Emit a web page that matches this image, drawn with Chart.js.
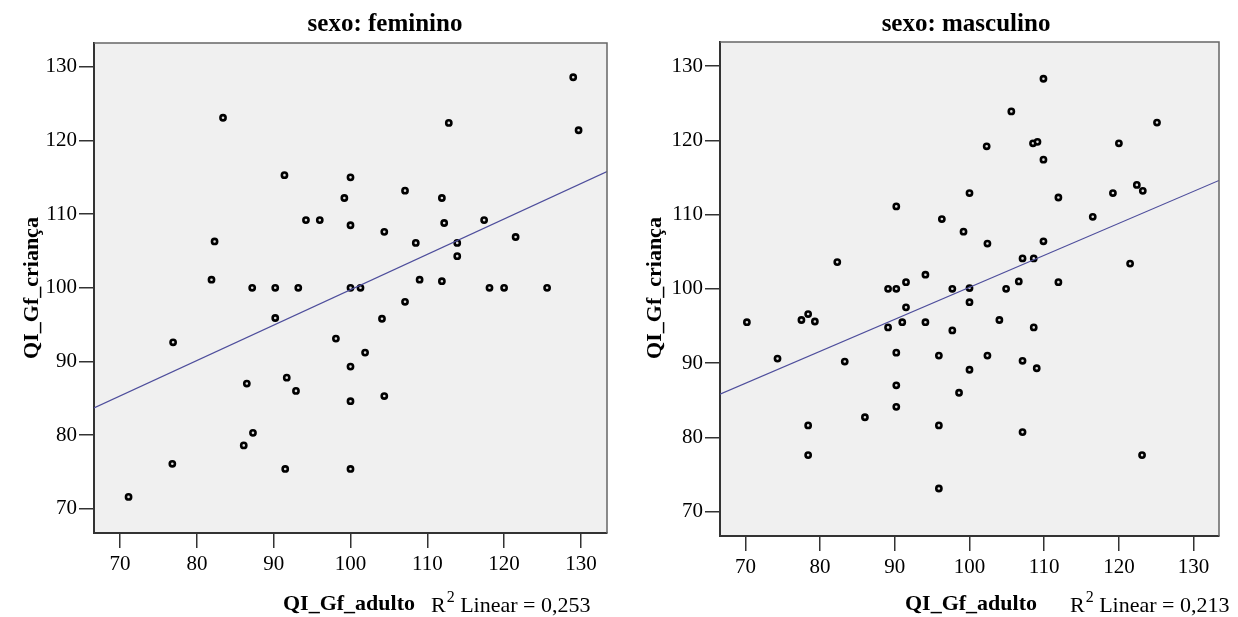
<!DOCTYPE html>
<html>
<head>
<meta charset="utf-8">
<script src="https://cdn.jsdelivr.net/npm/chart.js@4/dist/chart.umd.min.js"></script>
<style>
    body { margin: 0; background: #fff; }
    .panel { position: absolute; top: 0; width: 619px; height: 617px; }
</style>
</head>
<body>
<div class="panel" style="left:0"><canvas id="femChart"></canvas></div>
<div class="panel" style="left:619px"><canvas id="mascChart"></canvas></div>
<script>
// dados
const femAdulto = [83.4, 91.4, 94.2, 96.0, 82.3, 81.9, 87.2, 90.2, 93.2, 129.0, 129.7, 112.8, 100.0, 99.2, 107.1, 111.9, 100.0, 104.4, 112.2, 117.4, 108.5, 113.9, 113.9, 121.5, 109.0, 111.9, 100.0, 101.3, 118.1, 120.0, 125.6, 107.1, 76.9, 90.2, 98.1, 86.5, 91.7, 92.9, 87.3, 86.1, 76.8, 91.5, 71.1, 104.1, 101.9, 100.0, 100.0, 104.4, 100.0];
const femCrianca = [123.1, 115.3, 109.2, 109.2, 106.3, 101.1, 100, 100, 100, 128.6, 121.4, 122.4, 115.0, 112.2, 113.2, 112.2, 108.5, 107.6, 108.8, 109.2, 106.1, 106.1, 104.3, 106.9, 101.1, 100.9, 100, 100, 100, 100, 100, 98.1, 92.6, 95.9, 93.1, 87.0, 87.8, 86.0, 80.3, 78.6, 76.1, 75.4, 71.6, 95.8, 91.2, 89.3, 84.6, 85.3, 75.4];

const mascAdulto = [82.3, 90.2, 96.3, 89.1, 90.2, 91.5, 94.1, 97.7, 109.9, 105.6, 125.1, 102.3, 108.5, 109.1, 120.0, 109.9, 100.0, 111.9, 119.2, 122.4, 123.2, 116.5, 99.2, 102.4, 109.9, 107.1, 108.6, 121.5, 100.0, 104.9, 106.6, 111.9, 100.0, 70.2, 74.3, 77.5, 78.4, 79.3, 83.3, 86.0, 78.4, 78.4, 89.1, 91.0, 91.5, 94.1, 90.2, 90.2, 90.2, 95.9, 97.7, 98.6, 95.9, 95.9, 104.0, 108.6, 102.4, 107.1, 109.0, 100.0, 107.1, 123.1];
const mascCrianca = [103.6, 111.1, 109.4, 100, 100, 100.9, 101.9, 100, 128.3, 123.9, 122.4, 119.2, 119.6, 119.8, 119.6, 117.4, 112.9, 112.3, 112.9, 114.0, 113.2, 109.7, 107.7, 106.1, 106.4, 104.1, 104.1, 103.4, 100.1, 100, 101.0, 100.9, 98.2, 95.5, 90.6, 95.8, 96.6, 95.6, 90.2, 82.7, 81.6, 77.6, 94.8, 95.5, 97.5, 95.5, 91.4, 87.0, 84.1, 91.0, 94.4, 86.0, 81.6, 73.1, 95.8, 94.8, 91.0, 90.3, 89.3, 89.1, 80.7, 77.6];

const femFitX = [66.6, 133.4];
const femFitY = [83.7, 115.8];
const mascFitX = [66.6, 133.4];
const mascFitY = [85.8, 114.6];

const tickValues = [70, 80, 90, 100, 110, 120, 130];
const xRange = [66.6, 133.4];
const yRange = [66.7, 133.25];

const SERIF = "'Liberation Serif', 'Times New Roman', serif";

const framePlugin = {
    id: "frame",
    beforeDraw(chart) {
        const { ctx, chartArea: a } = chart;
        ctx.save();
        ctx.fillStyle = "#f0f0f0";
        ctx.fillRect(a.left, a.top, a.right - a.left, a.bottom - a.top);
        ctx.restore();
    },
    afterDraw(chart, args, opts) {
        const { ctx, chartArea: a } = chart;
        ctx.save();
        ctx.strokeStyle = "#666";
        ctx.lineWidth = 1.5;
        ctx.beginPath();
        ctx.moveTo(a.left, a.top);
        ctx.lineTo(a.right, a.top);
        ctx.lineTo(a.right, a.bottom);
        ctx.stroke();

        ctx.fillStyle = "#000";
        ctx.textBaseline = "alphabetic";
        ctx.textAlign = "center";
        ctx.font = `bold 25px ${SERIF}`;
        ctx.fillText(opts.title, opts.titleX, 31);

        ctx.font = `bold 22px ${SERIF}`;
        ctx.fillText("QI_Gf_adulto", opts.xLabelX, 610);

        ctx.save();
        ctx.translate(opts.yLabelX, 288);
        ctx.rotate(-Math.PI / 2);
        ctx.fillText("QI_Gf_criança", 0, 0);
        ctx.restore();

        ctx.textAlign = "left";
        let x = opts.r2X;
        ctx.font = `22px ${SERIF}`;
        ctx.fillText("R", x, 612);
        x += ctx.measureText("R").width;
        ctx.font = `16px ${SERIF}`;
        ctx.fillText("2", x + 1, 602);
        x += ctx.measureText("2").width + 1;
        ctx.font = `22px ${SERIF}`;
        ctx.fillText(" Linear = " + opts.r2, x, 612);
        ctx.restore();
    }
};

function makeChart(id, xs, ys, fitX, fitY, area, text) {
    const points = xs.map((x, i) => ({ x, y: ys[i] }));
    const fit = fitX.map((x, i) => ({ x, y: fitY[i] }));
    return new Chart(document.getElementById(id).getContext("2d"), {
        type: "scatter",
        data: {
            datasets: [
                {
                    type: "line",
                    data: fit,
                    borderColor: "#4e4e9c",
                    borderWidth: 1.2,
                    pointRadius: 0,
                    fill: false
                },
                {
                    data: points,
                    pointRadius: 2.6,
                    pointBorderWidth: 2.6,
                    pointBorderColor: "#000",
                    pointBackgroundColor: "#ddd",
                    pointHoverRadius: 2.6
                }
            ]
        },
        options: {
            responsive: true,
            maintainAspectRatio: false,
            animation: false,
            layout: { padding: { top: area.top, right: area.right, left: 0, bottom: 0 } },
            plugins: {
                legend: { display: false },
                tooltip: { enabled: false },
                frame: text
            },
            scales: {
                x: {
                    type: "linear",
                    min: xRange[0],
                    max: xRange[1],
                    afterBuildTicks: (s) => { s.ticks = tickValues.map((v) => ({ value: v })); },
                    afterFit: (s) => { s.height = area.xHeight; },
                    grid: { drawOnChartArea: false, tickLength: 15, color: "#333", lineWidth: 1.5 },
                    border: { color: "#333", width: 2 },
                    ticks: { color: "#000", padding: 4, maxRotation: 0, font: { family: SERIF, size: 21 } }
                },
                y: {
                    type: "linear",
                    min: yRange[0],
                    max: yRange[1],
                    afterBuildTicks: (s) => { s.ticks = tickValues.map((v) => ({ value: v })); },
                    afterFit: (s) => { s.width = area.yWidth; },
                    grid: { drawOnChartArea: false, tickLength: 15, color: "#333", lineWidth: 1.5 },
                    border: { color: "#333", width: 2 },
                    ticks: { color: "#000", padding: 2, font: { family: SERIF, size: 21 } }
                }
            }
        },
        plugins: [framePlugin]
    });
}

makeChart("femChart", femAdulto, femCrianca, femFitX, femFitY,
    { top: 43, right: 12, yWidth: 94, xHeight: 84 },
    { title: "sexo: feminino", titleX: 385, xLabelX: 349, yLabelX: 38, r2X: 431, r2: "0,253" });

makeChart("mascChart", mascAdulto, mascCrianca, mascFitX, mascFitY,
    { top: 42, right: 19, yWidth: 101, xHeight: 81 },
    { title: "sexo: masculino", titleX: 347, xLabelX: 352, yLabelX: 42, r2X: 451, r2: "0,213" });
</script>
</body>
</html>
